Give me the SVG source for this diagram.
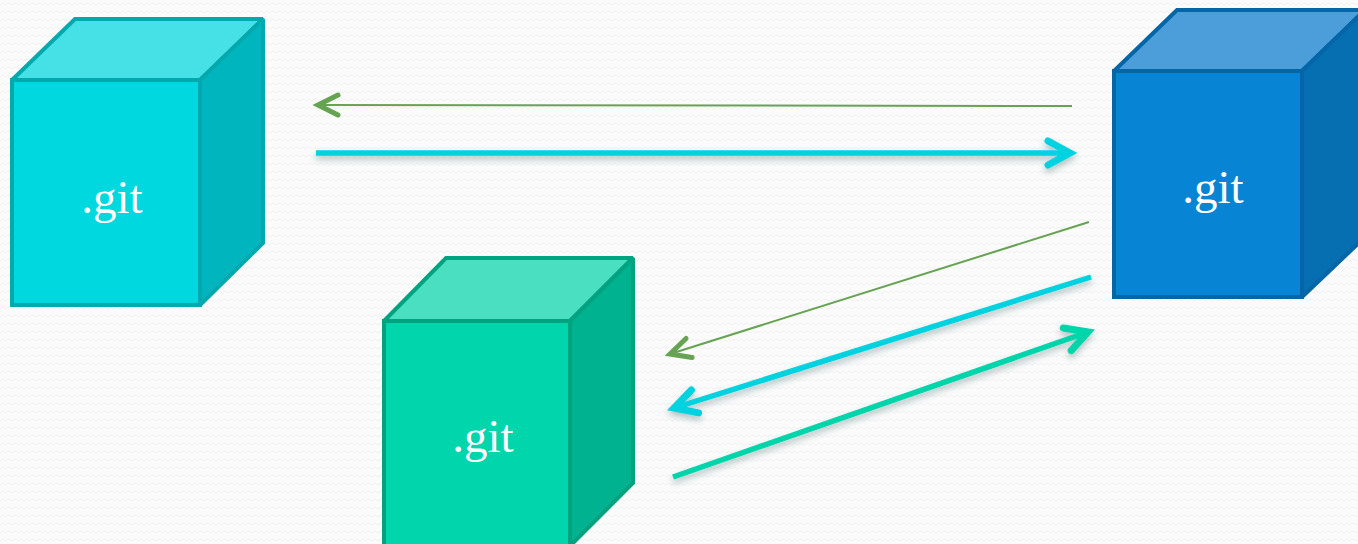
<svg xmlns="http://www.w3.org/2000/svg" width="1358" height="544" viewBox="0 0 1358 544">
  <style>
    .lbl { font-family: "Liberation Serif", "Times New Roman", serif; font-size: 47px; fill: #ffffff; text-anchor: middle; }
    .cube { stroke-width: 4; stroke-linejoin: miter; stroke-miterlimit: 2; }
    .thin { fill: none; stroke: #66a352; stroke-width: 2; }
    .thick { fill: none; stroke-width: 5.5; stroke-linecap: butt; filter: url(#sh); }
  </style>
  <defs>
    <pattern id="bg" width="12" height="8" patternUnits="userSpaceOnUse">
      <rect width="12" height="8" fill="#fbfbfb"/>
      <path d="M0 5 L3 3 L6 5 L9 3 L12 5" fill="none" stroke="#f1f1f1" stroke-width="1"/>
    </pattern>
    <filter id="sh" filterUnits="userSpaceOnUse" x="0" y="0" width="1358" height="544">
      <feDropShadow dx="0" dy="4" stdDeviation="3" flood-color="#2a5a5a" flood-opacity="0.35"/>
    </filter>
    <marker id="hThin" markerUnits="userSpaceOnUse" markerWidth="40" markerHeight="40" viewBox="-30 -20 40 40" refX="0" refY="0" orient="auto" overflow="visible">
      <path d="M-20 -10 L0 0 L-20 10" fill="none" stroke="#66a352" stroke-width="5" stroke-linecap="round" stroke-linejoin="miter"/>
    </marker>
    <marker id="hCyan" markerUnits="userSpaceOnUse" markerWidth="40" markerHeight="40" viewBox="-30 -20 40 40" refX="0" refY="0" orient="auto" overflow="visible">
      <path d="M-22 -12 L0 0 L-22 12" fill="none" stroke="#00d2e0" stroke-width="7" stroke-linecap="round" stroke-linejoin="miter"/>
    </marker>
    <marker id="hTeal" markerUnits="userSpaceOnUse" markerWidth="40" markerHeight="40" viewBox="-30 -20 40 40" refX="0" refY="0" orient="auto" overflow="visible">
      <path d="M-22 -12 L0 0 L-22 12" fill="none" stroke="#00d4aa" stroke-width="7" stroke-linecap="round" stroke-linejoin="miter"/>
    </marker>
  </defs>
  <rect width="1358" height="544" fill="url(#bg)"/>

  <g id="repo-left">
    <polygon class="cube" points="12,80 75,19 263,19 200,80" fill="#45e1e7" stroke="#00a9ad"/>
    <polygon class="cube" points="200,80 263,19 263,243 200,305" fill="#00b5bd" stroke="#00a9ad"/>
    <rect class="cube" x="12" y="80" width="188" height="225" fill="#00d8e0" stroke="#00a9ad"/>
    <text class="lbl" x="112" y="213">.git</text>
  </g>

  <g id="repo-right">
    <polygon class="cube" points="1114,71 1177,10 1365,10 1302,71" fill="#4c9edb" stroke="#0466a6"/>
    <polygon class="cube" points="1302,71 1365,10 1365,237 1302,297" fill="#066fb1" stroke="#0466a6"/>
    <rect class="cube" x="1114" y="71" width="188" height="226" fill="#0785d4" stroke="#0466a6"/>
    <text class="lbl" x="1213" y="203">.git</text>
  </g>

  <g id="repo-bottom">
    <polygon class="cube" points="384,321 446,258 633,258 570,321" fill="#49dfc0" stroke="#00a37f"/>
    <polygon class="cube" points="570,321 633,258 633,483 570,546" fill="#00b28f" stroke="#00a37f"/>
    <rect class="cube" x="384" y="321" width="186" height="230" fill="#00d5ab" stroke="#00a37f"/>
    <text class="lbl" x="483" y="452">.git</text>
  </g>

  <g id="connectors">
    <line class="thin" x1="1072" y1="106" x2="318" y2="105" marker-end="url(#hThin)"/>
    <line class="thick" x1="316" y1="153" x2="1070" y2="153" stroke="#00d2e0" marker-end="url(#hCyan)"/>
    <line class="thin" x1="1089" y1="222" x2="670" y2="354" marker-end="url(#hThin)"/>
    <line class="thick" x1="1091" y1="277" x2="674" y2="408" stroke="#00d2e0" marker-end="url(#hCyan)"/>
    <line class="thick" x1="673" y1="477" x2="1088" y2="332" stroke="#00d4aa" marker-end="url(#hTeal)"/>
  </g>
</svg>
